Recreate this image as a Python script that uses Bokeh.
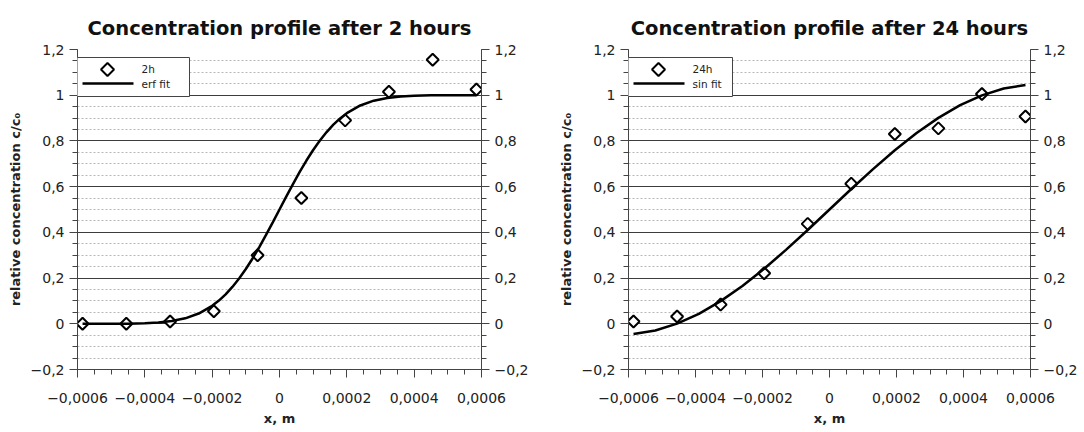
import math
from bokeh.plotting import figure
from bokeh.models import (LinearAxis, FixedTicker, Range1d, BoxAnnotation,
                          PolyAnnotation, Label)
from bokeh.layouts import row
from bokeh.embed import file_html
from bokeh.resources import INLINE

# ---------------- data ----------------
x_points = [-0.000585, -0.000455, -0.000325, -0.000195, -0.000065,
            0.000065, 0.000195, 0.000325, 0.000455, 0.000585]
c_2h = [0.0, 0.0, 0.01, 0.055, 0.30, 0.55, 0.89, 1.015, 1.155, 1.025]
c_24h = [0.01, 0.032, 0.084, 0.221, 0.437, 0.613, 0.83, 0.855, 1.005, 0.907]

erf_fit_x = [-0.000585, -0.0005, -0.00045, -0.0004, -0.00036, -0.00032, -0.00028,
             -0.00024, -0.0002, -0.00018, -0.00016, -0.00014, -0.00012, -0.0001,
             -0.00008, -0.00006, -0.00004, -0.00002, 0.0, 0.00002, 0.00004, 0.00006,
             0.00008, 0.0001, 0.00012, 0.00014, 0.00016, 0.00018, 0.0002, 0.00024,
             0.00028, 0.00032, 0.00036, 0.0004, 0.00045, 0.0005, 0.000585]
erf_fit_c = [0.0, 0.0002, 0.0007, 0.0023, 0.0054, 0.0118, 0.0238, 0.0448, 0.0786,
             0.1015, 0.1289, 0.1611, 0.1981, 0.2398, 0.2858, 0.3357, 0.3886, 0.4438,
             0.5, 0.5562, 0.6114, 0.6643, 0.7142, 0.7602, 0.8019, 0.8389, 0.8711,
             0.8985, 0.9214, 0.9552, 0.9762, 0.9882, 0.9946, 0.9977, 0.9993, 0.9998, 1.0]

sin_fit_x = [-0.000585, -0.00052, -0.000455, -0.00039, -0.000325, -0.00026, -0.000195,
             -0.00013, -0.000065, 0.0, 0.000065, 0.00013, 0.000195, 0.00026, 0.000325,
             0.00039, 0.000455, 0.00052, 0.000585]
sin_fit_c = [-0.0448, -0.0293, 0.0005, 0.0435, 0.0991, 0.1656, 0.2409, 0.3233, 0.4104,
             0.5, 0.5896, 0.6767, 0.7591, 0.8344, 0.9009, 0.9565, 0.9995, 1.0293, 1.0448]

x_ticks = [-0.0006, -0.0004, -0.0002, 0.0, 0.0002, 0.0004, 0.0006]
x_tick_labels = ["\u22120,0006", "\u22120,0004", "\u22120,0002", "0", "0,0002", "0,0004", "0,0006"]
y_ticks = [-0.2, 0.0, 0.2, 0.4, 0.6, 0.8, 1.0, 1.2]
y_tick_labels = ["\u22120,2", "0", "0,2", "0,4", "0,6", "0,8", "1", "1,2"]

titles = ["Concentration profile after 2 hours", "Concentration profile after 24 hours"]
point_labels = ["2h", "24h"]
fit_labels = ["erf fit", "sin fit"]
x_axis_title = "x, m"
y_axis_title = "relative concentration c/c\u2080"

# ---------------- styling helpers ----------------
FONT = "DejaVu Sans"
AX_COLOR = "#444444"
x_minor = [round(-0.0006 + 0.00005 * i, 6) for i in range(25)]
y_minor = [round(-0.2 + 0.05 * i, 2) for i in range(29)]
grid_major = y_ticks[1:-1]
grid_minor = [round(-0.2 + 0.05 * i, 2) for i in range(29) if i % 4 != 0]


def style_axis(ax, ticks, labels, minor):
    ax.ticker = FixedTicker(ticks=ticks, minor_ticks=minor)
    ax.major_label_overrides = dict(zip(ticks, labels))
    ax.axis_line_color = AX_COLOR
    ax.axis_line_width = 1
    ax.major_tick_line_color = AX_COLOR
    ax.minor_tick_line_color = AX_COLOR
    ax.major_tick_in = 0
    ax.major_tick_out = 8
    ax.minor_tick_in = 0
    ax.minor_tick_out = 5
    ax.major_label_text_font = FONT
    ax.major_label_text_font_size = "14px"
    ax.major_label_text_color = "#222222"
    ax.axis_label_text_font = FONT
    ax.axis_label_text_font_size = "13px"
    ax.axis_label_text_font_style = "bold"
    ax.axis_label_text_color = "#222222"


def add_legend(p, pt_label, fit_label, box_right):
    # hand-drawn legend box (screen units relative to the plot frame)
    p.add_layout(BoxAnnotation(left=-5, right=box_right, bottom=273, top=312,
                               left_units="screen", right_units="screen",
                               bottom_units="screen", top_units="screen",
                               fill_color="white", fill_alpha=1.0,
                               line_color=AX_COLOR, line_width=1, line_alpha=1.0))
    p.add_layout(PolyAnnotation(xs=[23.5, 30, 36.5, 30], ys=[300, 306.5, 300, 293.5],
                                xs_units="screen", ys_units="screen",
                                fill_color="white", fill_alpha=1.0,
                                line_color="black", line_width=2, line_alpha=1.0))
    p.add_layout(BoxAnnotation(left=5, right=56, bottom=284.7, top=287.3,
                               left_units="screen", right_units="screen",
                               bottom_units="screen", top_units="screen",
                               fill_color="black", fill_alpha=1.0, line_alpha=0))
    for txt, yy in ((pt_label, 301), (fit_label, 286)):
        p.add_layout(Label(x=64, y=yy, x_units="screen", y_units="screen", text=txt,
                           text_font=FONT, text_font_size="10.5px",
                           text_color="#222222", text_baseline="middle"))


def make_panel(title, y_pts, fit_x, fit_c, pt_label, fit_label, left, right, box_right):
    p = figure(width=542, height=432,
               x_range=Range1d(-0.0006, 0.0006), y_range=Range1d(-0.2, 1.2),
               output_backend="svg", toolbar_location=None,
               min_border_left=left, min_border_right=right,
               min_border_top=49, min_border_bottom=63, title=title)
    p.title.align = "center"
    p.title.text_font = FONT
    p.title.text_font_size = "19.5px"
    p.title.text_font_style = "bold"
    p.title.text_color = "#111111"
    p.title.standoff = 19
    p.outline_line_color = None
    p.background_fill_color = "white"
    p.border_fill_color = "white"

    style_axis(p.xaxis[0], x_ticks, x_tick_labels, x_minor)
    p.xaxis[0].axis_label = x_axis_title
    p.xaxis[0].major_label_standoff = 15
    p.xaxis[0].axis_label_standoff = 5

    style_axis(p.yaxis[0], y_ticks, y_tick_labels, y_minor)
    p.yaxis[0].axis_label = y_axis_title
    p.yaxis[0].major_label_standoff = 5
    p.yaxis[0].axis_label_standoff = 5

    right_axis = LinearAxis()
    style_axis(right_axis, y_ticks, y_tick_labels, y_minor)
    right_axis.major_label_standoff = 5
    p.add_layout(right_axis, "right")

    p.xgrid.grid_line_color = None
    p.ygrid.ticker = FixedTicker(ticks=grid_major, minor_ticks=grid_minor)
    p.ygrid.grid_line_color = "#3c3c3c"
    p.ygrid.grid_line_width = 1
    p.ygrid.minor_grid_line_color = "#b8b8b8"
    p.ygrid.minor_grid_line_dash = "2 2"
    p.ygrid.minor_grid_line_width = 1

    p.scatter(x_points, y_pts, marker="square", size=8.5, angle=math.pi / 4,
              line_color="black", line_width=2, fill_color="white")
    p.line(fit_x, fit_c, line_color="black", line_width=2.5)

    add_legend(p, pt_label, fit_label, box_right)
    return p


p1 = make_panel(titles[0], c_2h, erf_fit_x, erf_fit_c, point_labels[0], fit_labels[0],
                77, 61, 112)
p2 = make_panel(titles[1], c_24h, sin_fit_x, sin_fit_c, point_labels[1], fit_labels[1],
                86, 54, 104)

layout = row(p1, p2)
open("out.html", "w").write(file_html(layout, INLINE))
